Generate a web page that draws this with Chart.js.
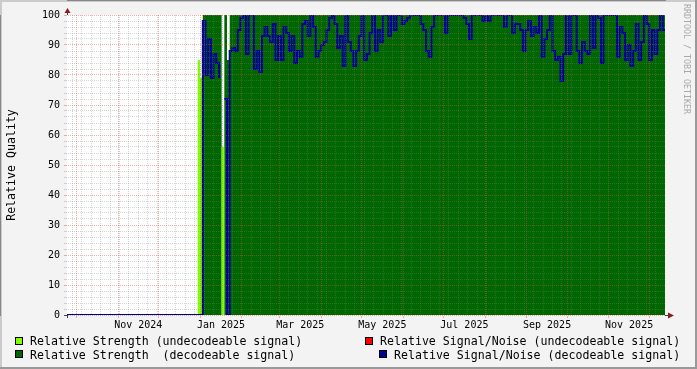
<!DOCTYPE html>
<html>
<head>
<meta charset="utf-8">
<script src="https://cdn.jsdelivr.net/npm/chart.js@4.4.1/dist/chart.umd.min.js"></script>
<style>
  html, body { margin: 0; padding: 0; background: #f3f3f3; }
  #wrap { position: relative; width: 697px; height: 369px; overflow: hidden; }
  #c { position: absolute; left: 0; top: 0; }
  .leg { position: absolute; font: 11.6px 'DejaVu Sans Mono', monospace; color: #000; white-space: pre; line-height: 14px; }
  .box { position: absolute; width: 6px; height: 6px; border: 1px solid #000; }
  #mark { position: absolute; left: 682px; top: 4px; writing-mode: vertical-rl; font: 8.3px 'DejaVu Sans Mono', monospace;
          line-height: 10px; color: #a8a8a8; white-space: pre; }
</style>
</head>
<body>
<div id="wrap">
  <canvas id="c" width="697" height="369"></canvas>
  <div id="mark">RRDTOOL / TOBI OETIKER</div>
</div>
<script>
// days are counted from 1 Jan 2025
const DAY = 86400000;
const T0 = Date.UTC(2025, 0, 1);
const dayOf = (y, m) => (Date.UTC(y, m, 1) - T0) / DAY;
const MONTHS = ['Jan','Feb','Mar','Apr','May','Jun','Jul','Aug','Sep','Oct','Nov','Dec'];

const axisStartDay = -99;
const axisEndDay = 345.7;
const monthLabels = ['Nov 2024', 'Jan 2025', 'Mar 2025', 'May 2025', 'Jul 2025', 'Sep 2025', 'Nov 2025'];
const yLabels = [0, 10, 20, 30, 40, 50, 60, 70, 80, 90, 100];

// relative strength, undecodeable signal (change points)
const strengthUndecDays   = [-2, 0, 2, 14, 16, 18];
const strengthUndecValues = [85, 79, 0, 0, 56, 0];

// relative strength, decodeable signal (change points)
const strengthDecDays   = [-99, 2, 16, 18, 20, 22, 346];
const strengthDecValues = [0, 100, 0, 100, 85, 100, 100];

// relative signal/noise, undecodeable signal
const snrUndecDays   = [-99, -2, 0];
const snrUndecValues = [0, 0, 0];

// relative signal/noise, decodeable signal: day -99, then every 2 days from day -2 to 346
const snrDecDays = [-99];
for (let d = -2; d <= 346; d += 2) snrDecDays.push(d);
const snrDecValues = [0,
  0, 0, 98, 80, 92, 79, 87, 84, 79, null,         // -2 .. 16
  72, 0, 88, 89, 88, 95, 99, 100, 87, 100,        // 18 .. 36
  100, 82, 88, 81, 93, 96, 93, 91, 97, 85,        // 38 .. 56
  93, 85, 96, 94, 88, 93, 84, 88, 86, 97,         // 58 .. 76
  98, 93, 100, 96, 86, 88, 90, 91, 95, 99,        // 78 .. 96
  100, 97, 89, 93, 83, 100, 91, 88, 83, 88,       // 98 .. 116
  93, 100, 85, 87, 94, 100, 88, 95, 91, 100,      // 118 .. 136
  100, 93, 100, 95, 100, 100, 97, 98, 99, 100,    // 138 .. 156
  100, 100, 100, 97, 95, 88, 86, 96, 100, 100,    // 158 .. 176
  100, 100, 94, 100, 100, 100, 100, 100, 100, 99, // 178 .. 196
  97, 92, 100, 100, 100, 100, 98, 100, 98, 100,   // 198 .. 216
  100, 100, 100, 100, 96, 100, 100, 94, 97, 97,   // 218 .. 236
  95, 88, 95, 98, 93, 96, 94, 100, 86, 92,        // 238 .. 256
  95, 100, 88, 85, 86, 78, 87, 100, 87, 100,      // 258 .. 276
  100, 88, 84, 91, 88, 87, 100, 89, 100, 99,      // 278 .. 296
  84, 100, 100, 100, 100, 100, 86, 96, 94, 85,    // 298 .. 316
  90, 83, 88, 97, 85, 91, 100, 97, 85, 95,        // 318 .. 336
  87, 95, 100, 95, 95                             // 338 .. 346
];

const C_UNDEC = '#7fff00';
const C_DEC = '#006600';
const C_SNR_UNDEC = '#ff0000';
const C_SNR_DEC = '#000096';
const GRID_MINOR = 'rgba(128,128,128,0.32)';
const GRID_MAJOR = 'rgba(224,80,80,0.45)';
const FONT = "'DejaVu Sans Mono', monospace";

const pts = (days, vals) => days.map((d, i) => ({ x: d, y: vals[i] }));

// month starts (major grid) and saturdays (minor grid)
const monthStarts = [];
for (let y = 2024; y <= 2025; y++) {
  for (let m = 0; m < 12; m++) {
    const d = dayOf(y, m);
    if (d >= axisStartDay && d <= axisEndDay) monthStarts.push(d);
  }
}
const monthSet = new Set(monthStarts);

const labelPos = {};
monthLabels.forEach(l => {
  const [mn, yr] = l.split(' ');
  const m = MONTHS.indexOf(mn), y = +yr;
  const mid = (dayOf(y, m) + dayOf(y, m + 1)) / 2;
  labelPos[mid] = l;
});

const framePlugin = {
  id: 'frame',
  beforeDraw(chart) {
    const { ctx, chartArea: a, width, height } = chart;
    ctx.save();
    ctx.fillStyle = '#f3f3f3';
    ctx.fillRect(0, 0, width, height);
    ctx.fillStyle = '#cbcbcb';
    ctx.fillRect(0, 0, width, 2);
    ctx.fillRect(0, 0, 2, height);
    ctx.fillStyle = '#999999';
    ctx.fillRect(0, height - 2, width, 2);
    ctx.fillRect(width - 2, 0, 2, height);
    ctx.fillStyle = '#ffffff';
    ctx.fillRect(a.left, a.top, a.right - a.left, a.bottom - a.top);
    ctx.restore();
  },
  afterDraw(chart) {
    const { ctx, chartArea: a } = chart;
    ctx.save();
    ctx.strokeStyle = '#444';
    ctx.lineWidth = 1;
    ctx.beginPath();
    ctx.moveTo(a.left + 0.5, a.top - 3);
    ctx.lineTo(a.left + 0.5, a.top);
    ctx.moveTo(a.left + 0.5, a.bottom);
    ctx.lineTo(a.left + 0.5, a.bottom + 3);
    ctx.moveTo(a.left - 3, a.bottom + 0.5);
    ctx.lineTo(a.left, a.bottom + 0.5);
    ctx.moveTo(a.right, a.bottom + 0.5);
    ctx.lineTo(a.right + 4, a.bottom + 0.5);
    ctx.stroke();
    ctx.fillStyle = '#8b1a1a';
    ctx.beginPath();
    ctx.moveTo(a.left + 0.5, a.top - 7);
    ctx.lineTo(a.left - 2.5, a.top - 2);
    ctx.lineTo(a.left + 3.5, a.top - 2);
    ctx.closePath();
    ctx.fill();
    ctx.beginPath();
    ctx.moveTo(a.right + 9, a.bottom + 0.5);
    ctx.lineTo(a.right + 3, a.bottom - 2.5);
    ctx.lineTo(a.right + 3, a.bottom + 3.5);
    ctx.closePath();
    ctx.fill();
    ctx.restore();
  }
};

new Chart(document.getElementById('c'), {
  type: 'line',
  data: {
    datasets: [
      {
        label: 'Relative Signal/Noise (decodeable signal)',
        data: pts(snrDecDays, snrDecValues),
        borderColor: C_SNR_DEC, borderWidth: 2, stepped: true,
        pointRadius: 0, fill: false, spanGaps: false, order: 0
      },
      {
        label: 'Relative Signal/Noise (undecodeable signal)',
        data: pts(snrUndecDays, snrUndecValues),
        borderColor: C_SNR_UNDEC, borderWidth: 2, stepped: true,
        pointRadius: 0, fill: false, order: 1
      },
      {
        label: 'Relative Strength (undecodeable signal)',
        data: pts(strengthUndecDays, strengthUndecValues),
        borderWidth: 0, backgroundColor: C_UNDEC, stepped: true,
        pointRadius: 0, fill: 'origin', order: 2
      },
      {
        label: 'Relative Strength  (decodeable signal)',
        data: pts(strengthDecDays, strengthDecValues),
        borderWidth: 0, backgroundColor: C_DEC, stepped: true,
        pointRadius: 0, fill: 'origin', order: 3
      }
    ]
  },
  options: {
    responsive: false,
    devicePixelRatio: 1,
    animation: false,
    events: [],
    layout: { padding: { top: 15, right: 32, bottom: 0, left: 0 } },
    plugins: { legend: { display: false }, tooltip: { enabled: false } },
    scales: {
      x: {
        type: 'linear', position: 'bottom', weight: 0,
        min: axisStartDay, max: axisEndDay,
        afterBuildTicks(scale) {
          const vals = new Set(monthStarts);
          for (let d = 3; d >= axisStartDay; d -= 7) vals.add(d);
          for (let d = 10; d <= axisEndDay; d += 7) vals.add(d);
          scale.ticks = [...vals].sort((a, b) => a - b).map(v => ({ value: v }));
        },
        afterFit(scale) { scale.height = 3; },
        ticks: { display: false, autoSkip: false },
        grid: {
          z: 1, tickLength: 3,
          color: c => (c.tick && monthSet.has(c.tick.value)) ? GRID_MAJOR : GRID_MINOR,
          tickColor: c => (c.tick && monthSet.has(c.tick.value)) ? GRID_MAJOR : 'rgba(0,0,0,0)'
        },
        border: { display: true, color: '#444', dash: [1, 1] }
      },
      x2: {
        type: 'linear', position: 'bottom', weight: 1,
        min: axisStartDay, max: axisEndDay,
        afterBuildTicks(scale) {
          scale.ticks = Object.keys(labelPos).map(Number).sort((a, b) => a - b).map(v => ({ value: v }));
        },
        afterFit(scale) { scale.height = 51; },
        ticks: {
          autoSkip: false, maxRotation: 0, padding: 1, color: '#000',
          font: { family: FONT, size: 10 },
          callback: v => labelPos[v] || ''
        },
        grid: { display: false, drawTicks: false },
        border: { display: false }
      },
      y: {
        min: 0, max: 100,
        afterFit(scale) { scale.width = 67; },
        title: {
          display: true, text: 'Relative Quality', color: '#000',
          font: { family: FONT, size: 11.6 }, padding: { top: 5, bottom: 0 }
        },
        ticks: {
          stepSize: 2, autoSkip: false, padding: 4, color: '#000',
          font: { family: FONT, size: 10 },
          callback: v => yLabels.includes(v) ? String(v) : ''
        },
        grid: {
          z: 1, tickLength: 3,
          color: c => (c.tick && yLabels.includes(c.tick.value)) ? GRID_MAJOR : GRID_MINOR,
          tickColor: c => (c.tick && yLabels.includes(c.tick.value)) ? GRID_MAJOR : GRID_MINOR
        },
        border: { display: true, color: '#444', dash: [1, 1] }
      }
    }
  },
  plugins: [framePlugin]
});

// legend, laid out like the rrdtool one
const legend = [
  { text: 'Relative Strength (undecodeable signal)', color: C_UNDEC, box: [15, 337], txt: [30, 334] },
  { text: 'Relative Signal/Noise (undecodeable signal)', color: C_SNR_UNDEC, box: [365, 337], txt: [380, 334] },
  { text: 'Relative Strength  (decodeable signal)', color: C_DEC, box: [15, 350], txt: [30, 348] },
  { text: 'Relative Signal/Noise (decodeable signal)', color: C_SNR_DEC, box: [379, 350], txt: [394, 348] }
];
const wrap = document.getElementById('wrap');
legend.forEach(l => {
  const b = document.createElement('div');
  b.className = 'box';
  b.style.left = l.box[0] + 'px';
  b.style.top = l.box[1] + 'px';
  b.style.background = l.color;
  wrap.appendChild(b);
  const t = document.createElement('div');
  t.className = 'leg';
  t.style.left = l.txt[0] + 'px';
  t.style.top = l.txt[1] + 'px';
  t.textContent = l.text;
  wrap.appendChild(t);
});
</script>
</body>
</html>
